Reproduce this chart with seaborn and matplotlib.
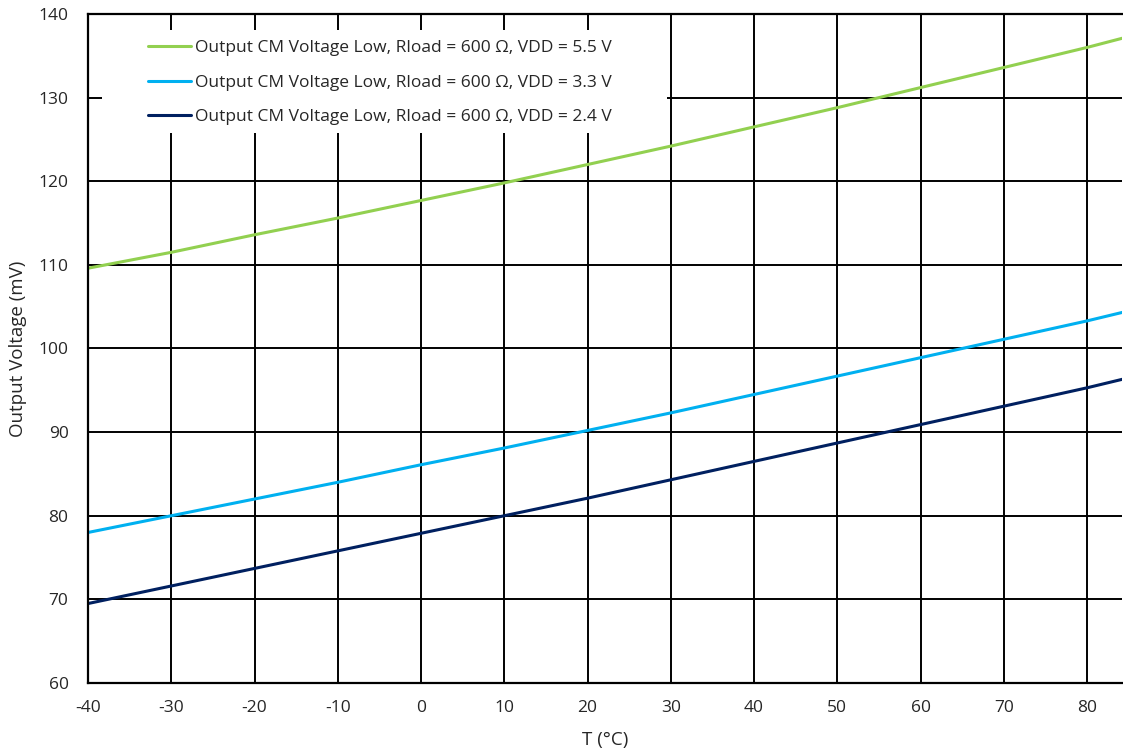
import matplotlib
matplotlib.use('Agg')
import matplotlib.pyplot as plt
from matplotlib.patches import Rectangle
import numpy as np
import pandas as pd
import seaborn as sns

temps = [-40, -30, -20, -10, 0, 10, 20, 30, 40, 50, 60, 70, 80, 85]
vdd_55 = [109.6, 111.5, 113.6, 115.6, 117.7, 119.8, 122.0, 124.2, 126.5, 128.8, 131.2, 133.6, 136.0, 137.3]
vdd_33 = [78.0, 80.0, 82.0, 84.0, 86.1, 88.1, 90.2, 92.3, 94.5, 96.7, 98.9, 101.1, 103.3, 104.5]
vdd_24 = [69.5, 71.6, 73.7, 75.8, 77.9, 80.0, 82.1, 84.3, 86.5, 88.7, 90.9, 93.1, 95.3, 96.5]

labels = [
    'Output CM Voltage Low, Rload = 600 \u03a9, VDD = 5.5 V',
    'Output CM Voltage Low, Rload = 600 \u03a9, VDD = 3.3 V',
    'Output CM Voltage Low, Rload = 600 \u03a9, VDD = 2.4 V',
]
colors = ['#92D050', '#00B0F0', '#002060']

df = pd.concat([
    pd.DataFrame({'T': temps, 'V': vals, 'series': lab})
    for vals, lab in zip([vdd_55, vdd_33, vdd_24], labels)
])

sns.set_style('white')
plt.rcParams['font.family'] = ['Open Sans', 'DejaVu Sans']
plt.rcParams['axes.unicode_minus'] = False

fig = plt.figure(figsize=(11.23, 7.53), dpi=100)
ax = fig.add_axes([88 / 1123, 70 / 753, 1034 / 1123, 669 / 753])

sns.lineplot(data=df, x='T', y='V', hue='series', palette=colors,
             hue_order=labels, linewidth=2.2, ax=ax)

ax.set_xlim(-40, 84.2)
ax.set_ylim(60, 140)
ax.set_xticks(range(-40, 81, 10))
ax.set_yticks(range(60, 141, 10))
ax.grid(True, color='black', linewidth=1.4)
ax.set_axisbelow(True)
for s in ['left', 'bottom', 'top']:
    ax.spines[s].set_visible(True)
    ax.spines[s].set_color('black')
    ax.spines[s].set_linewidth(1.6)
ax.spines['right'].set_visible(False)
ax.tick_params(axis='both', labelsize=12.5, length=0)
ax.tick_params(axis='x', pad=12.5)
ax.tick_params(axis='y', pad=14)

ax.set_xlabel('T (\u00b0C)', fontsize=13.5)
ax.set_ylabel('Output Voltage (mV)', fontsize=13.5)
ax.xaxis.set_label_coords(0.5, -0.072)
ax.yaxis.set_label_coords(-0.059, 0.5)

# white box behind the legend, hiding the grid
ax.add_patch(Rectangle((0.0135, 0.822), 0.546, 0.154, transform=ax.transAxes,
                       facecolor='white', edgecolor='none', zorder=1))

leg = ax.legend(loc='upper left', bbox_to_anchor=(0.058, 0.961), fontsize=12.5,
                frameon=False, handlelength=2.5, handletextpad=0.23,
                labelspacing=1.06, borderpad=0, borderaxespad=0)

fig.savefig('out.png', dpi=100)
